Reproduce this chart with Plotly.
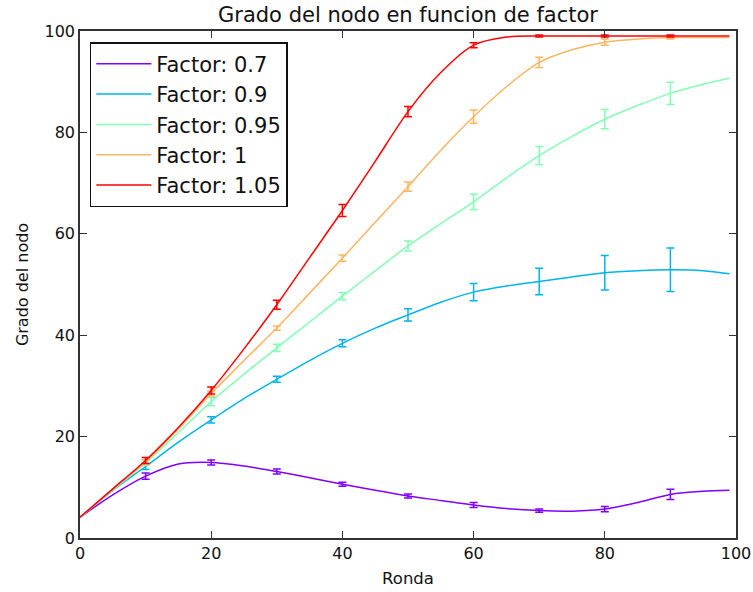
import plotly.graph_objects as go

rounds = [0, 5, 10, 15, 20, 25, 30, 35, 40, 45, 50, 55, 60, 65, 70, 75, 80, 85, 90, 95, 99]
f070 = [4.1, 8.5, 12.2, 14.6, 14.9, 14.2, 13.1, 11.9, 10.6, 9.4, 8.3, 7.4, 6.5, 5.8, 5.4, 5.3, 5.7, 7.0, 8.6, 9.2, 9.4]
f090 = [4.1, 9.4, 14.1, 18.9, 23.3, 27.5, 31.3, 35.0, 38.4, 41.4, 44.0, 46.5, 48.5, 49.7, 50.6, 51.5, 52.3, 52.7, 52.9, 52.7, 52.1]
f095 = [4.1, 9.5, 14.8, 20.8, 26.9, 32.3, 37.5, 42.6, 47.7, 52.7, 57.6, 62.0, 66.3, 71.0, 75.4, 79.2, 82.6, 85.3, 87.7, 89.5, 90.7]
f100 = [4.1, 9.6, 15.0, 21.5, 28.5, 35.0, 41.4, 48.3, 55.2, 62.3, 69.3, 76.5, 83.1, 89.0, 93.8, 96.3, 97.8, 98.4, 98.7, 98.7, 98.7]
f105 = [4.1, 9.7, 15.3, 21.8, 29.1, 37.3, 46.0, 55.3, 64.6, 74.3, 84.1, 91.8, 97.2, 98.8, 99.0, 99.0, 99.0, 99.0, 99.0, 99.0, 99.0]

err_rounds = [10, 20, 30, 40, 50, 60, 70, 80, 90]
err070 = [0.6, 0.5, 0.5, 0.4, 0.4, 0.5, 0.3, 0.5, 1.0]
err090 = [0.6, 0.6, 0.6, 0.7, 1.2, 1.7, 2.6, 3.4, 4.3]
err095 = [0.5, 0.8, 0.7, 0.7, 1.0, 1.5, 1.8, 1.9, 2.2]
err100 = [0.5, 0.5, 0.4, 0.6, 0.9, 1.3, 1.0, 0.6, 0.3]
err105 = [0.6, 0.7, 0.9, 1.2, 1.0, 0.5, 0.2, 0.2, 0.2]

labels = ["Factor: 0.7", "Factor: 0.9", "Factor: 0.95", "Factor: 1", "Factor: 1.05"]
colors = ["#8000ff", "#00b4eb", "#80ffb4", "#ffb462", "#ff0000"]
series = [f070, f090, f095, f100, f105]
errors = [err070, err090, err095, err100, err105]

fig = go.Figure()
for lab, col, ys, es in zip(labels, colors, series, errors):
    fig.add_trace(go.Scatter(
        x=rounds, y=ys, mode="lines", name=lab, legendgroup=lab,
        line=dict(color=col, width=1.5, shape="spline", smoothing=0.8),
    ))
    ey = [ys[rounds.index(r)] for r in err_rounds]
    fig.add_trace(go.Scatter(
        x=err_rounds, y=ey, mode="markers", showlegend=False, legendgroup=lab,
        marker=dict(size=1, color=col, opacity=0),
        error_y=dict(type="data", array=es, visible=True, color=col, thickness=1.5, width=4),
    ))

axis_common = dict(
    range=[0, 100], showgrid=False, zeroline=False, showline=True, mirror="ticks",
    linecolor="#333333", linewidth=1.5, ticks="inside", ticklen=7, tickwidth=1,
    tickcolor="#333333", tickfont=dict(size=16, color="#111111"), dtick=20,
    automargin=False,
)

fig.update_layout(
    width=753, height=592,
    margin=dict(l=80, r=17, t=31, b=54),
    paper_bgcolor="white", plot_bgcolor="white",
    font=dict(family="DejaVu Sans", color="#111111"),
    title=dict(text="Grado del nodo en funcion de factor", x=0.5, xref="paper", xanchor="center",
               yref="container", y=0.975, yanchor="middle", font=dict(size=21)),
    xaxis=dict(title=dict(text="Ronda", font=dict(size=16.5), standoff=10), **axis_common),
    yaxis=dict(title=dict(text="Grado del nodo", font=dict(size=16), standoff=12), **axis_common),
    legend=dict(x=0.015, y=0.978, xanchor="left", yanchor="top",
                bordercolor="#111111", borderwidth=1.5, bgcolor="white",
                font=dict(size=21), tracegroupgap=0, itemwidth=55,
                traceorder="grouped"),
    showlegend=True,
)

# remove the default 8px page margin so the 753x592 figure fills the window exactly
fig.write_html("out.html", config={"displayModeBar": False},
               post_script="document.body.style.margin='0';")
